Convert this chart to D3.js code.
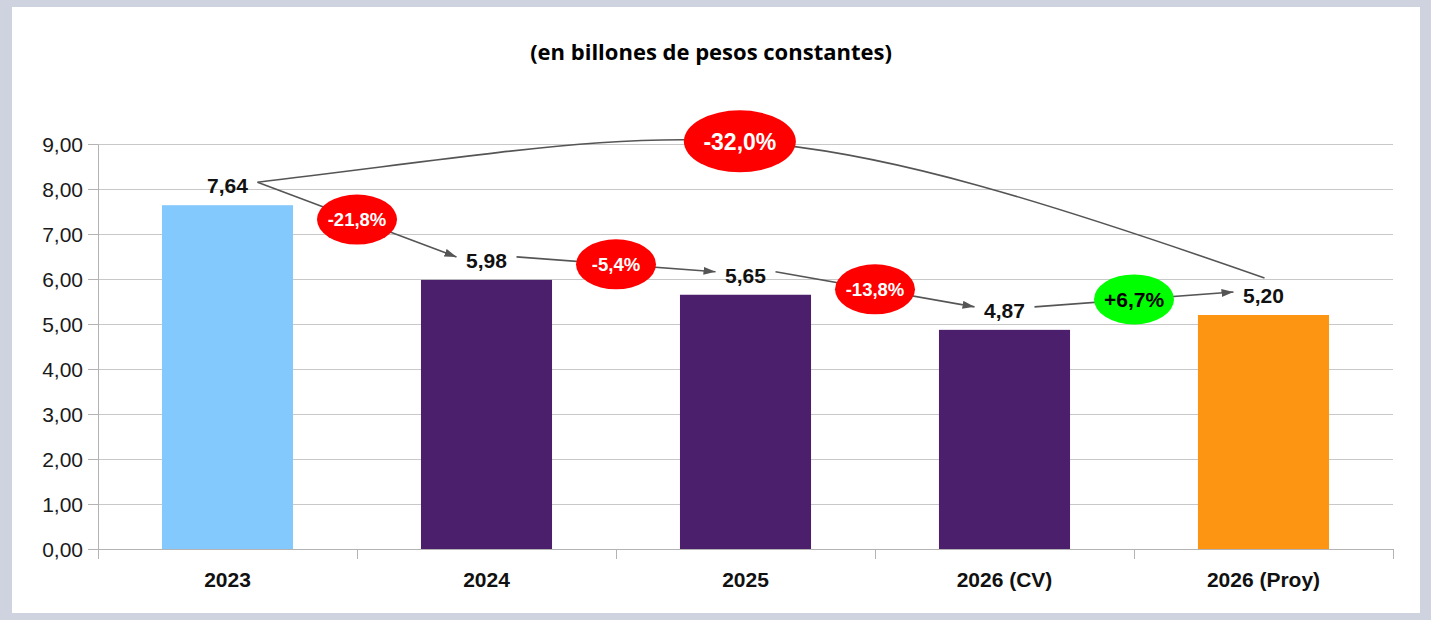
<!DOCTYPE html>
<html>
<head>
<meta charset="utf-8">
<script src="https://cdn.jsdelivr.net/npm/d3@7"></script>
<style>
  body{margin:0;background:#cfd3df;}
  #chart{position:absolute;left:12px;top:7px;width:1408px;height:606px;background:#fff;}
  svg{position:absolute;left:0;top:0;}
  .axis text{font-family:"Liberation Sans",Arial,sans-serif;fill:#1a1a1a;}
  .axis path,.axis line{stroke:#b3b3b3;}
  .grid line{stroke:#c8c8c8;}
  .grid path{stroke:none;}
</style>
</head>
<body>
<div id="chart"></div>
<svg id="svgchart" width="1431" height="620"></svg>
<script>
var categories=["2023","2024","2025","2026 (CV)","2026 (Proy)"],
 values=[7.64,5.98,5.65,4.87,5.20],
 valueLabels=["7,64","5,98","5,65","4,87","5,20"],
 barColors=["#84c9fd","#4b1f6c","#4b1f6c","#4b1f6c","#fd9412"],
 yTicks=[0,1,2,3,4,5,6,7,8,9],
 stepChanges=["-21,8%","-5,4%","-13,8%","+6,7%"],
 totalChange="-32,0%",
 title="(en billones de pesos constantes)";

var svg=d3.select("#svgchart"),
 margin={top:144,right:38,bottom:71,left:98},
 width=+svg.attr("width")-margin.left-margin.right,
 height=+svg.attr("height")-margin.top-margin.bottom;

var g=svg.append("g").attr("transform","translate("+margin.left+","+margin.top+")");

var x=d3.scaleBand().domain(categories).range([0,width]).padding(0),
 xb=d3.scaleLinear().domain([0,categories.length]).range([0,width]),
 y=d3.scaleLinear().domain([0,9]).range([height,0]);

var fmt=function(d){ return d3.format(".2f")(d).replace(".",","); };

//title
svg.append("text")
  .attr("x",711).attr("y",60)
  .attr("text-anchor","middle")
  .style("font-family","'Open Sans',sans-serif")
  .style("font-weight","700")
  .style("font-size","22px")
  .style("fill","#000")
  .text(title);

//grid
function make_y_gridlines(){
  return d3.axisLeft(y).tickValues(yTicks);
}
g.append("g")
  .attr("class","grid")
  .call(make_y_gridlines().tickSize(-width).tickFormat(""));

//y axis
var yaxis=g.append("g")
  .attr("class","axis")
  .call(d3.axisLeft(y).tickValues(yTicks).tickSizeInner(10).tickSizeOuter(0).tickPadding(5).tickFormat(fmt));
yaxis.selectAll("text").style("font-size","21px").attr("dy","0.36em");

//x axis
g.append("g")
  .attr("class","axis")
  .attr("transform","translate(0,"+height+")")
  .call(d3.axisBottom(xb).tickValues(d3.range(categories.length+1)).tickSizeInner(10).tickSizeOuter(0).tickFormat(""));
var xaxis=g.append("g")
  .attr("class","axis")
  .attr("transform","translate(0,"+height+")")
  .call(d3.axisBottom(x).tickSize(0).tickPadding(23));
xaxis.select(".domain").remove();
xaxis.selectAll("text").style("font-size","21px").style("font-weight","700").style("fill","#111");

//bars
var barW=x.bandwidth()*0.506;
g.selectAll(".bar")
  .data(values)
  .enter().append("rect")
  .attr("class","bar")
  .attr("x",function(d,i){ return x(categories[i])+(x.bandwidth()-barW)/2; })
  .attr("y",function(d){ return y(d); })
  .attr("width",barW)
  .attr("height",function(d){ return height-y(d); })
  .attr("fill",function(d,i){ return barColors[i]; });

//value labels
var cx=function(i){ return x(categories[i])+x.bandwidth()/2; },
 base=function(i){ return y(values[i])-12; };

g.selectAll(".vlabel")
  .data(values)
  .enter().append("text")
  .attr("class","vlabel")
  .attr("x",function(d,i){ return cx(i); })
  .attr("y",function(d,i){ return base(i); })
  .attr("text-anchor","middle")
  .style("font-family","'Liberation Sans',Arial,sans-serif")
  .style("font-size","21px")
  .style("font-weight","700")
  .style("fill","#111")
  .text(function(d,i){ return valueLabels[i]; });

//arrow marker
svg.append("defs").append("marker")
  .attr("id","arrow")
  .attr("viewBox","0 0 12 8")
  .attr("refX",12).attr("refY",4)
  .attr("markerWidth",12).attr("markerHeight",8)
  .attr("markerUnits","userSpaceOnUse")
  .attr("orient","auto")
  .append("path").attr("d","M0,0L12,4L0,8Z").attr("fill","#555");

var lineColor="#555";

//total change curve
var p0=[cx(0)+30,base(0)-11],
 p3=[cx(categories.length-1)+1,base(categories.length-1)-25],
 dx=p3[0]-p0[0];
var c1=[p0[0]+dx*0.458,p0[1]-dx*0.055],
 c2=[p3[0]-dx*0.514,p3[1]-dx*0.18];
var curve=d3.path();
curve.moveTo(p0[0],p0[1]);
curve.bezierCurveTo(c1[0],c1[1],c2[0],c2[1],p3[0],p3[1]);
g.append("path")
  .attr("d",curve.toString())
  .attr("fill","none")
  .attr("stroke",lineColor)
  .attr("stroke-width",1.6);

//step arrows
var steps=stepChanges.map(function(lab,i){
  var s=[cx(i)+30,base(i)-11],
   e=[cx(i+1)-30,base(i+1)-11],
   bx=xb(i+1);
  return {label:lab,s:s,e:e,bx:bx,by:s[1]+(e[1]-s[1])*(bx-s[0])/(e[0]-s[0])};
});

g.selectAll(".step")
  .data(steps)
  .enter().append("line")
  .attr("class","step")
  .attr("x1",function(d){ return d.s[0]; })
  .attr("y1",function(d){ return d.s[1]; })
  .attr("x2",function(d){ return d.e[0]; })
  .attr("y2",function(d){ return d.e[1]; })
  .attr("stroke",lineColor)
  .attr("stroke-width",1.6)
  .attr("marker-end","url(#arrow)");

//bubbles
var bubbles=steps.map(function(d){
  return {label:d.label,x:d.bx,y:d.by,rx:40,ry:25,size:d.label[0]=="+"?21:18.5};
});
var mid=[(p0[0]+3*c1[0]+3*c2[0]+p3[0])/8,(p0[1]+3*c1[1]+3*c2[1]+p3[1])/8];
bubbles.push({label:totalChange,x:mid[0],y:mid[1],rx:56,ry:31,size:23});

var bub=g.selectAll(".bubble")
  .data(bubbles)
  .enter().append("g")
  .attr("class","bubble")
  .attr("transform",function(d){ return "translate("+d.x+","+d.y+")"; });
bub.append("ellipse")
  .attr("rx",function(d){ return d.rx; })
  .attr("ry",function(d){ return d.ry; })
  .attr("fill",function(d){ return d.label[0]=="+"?"#00ff00":"#ff0000"; });
bub.append("text")
  .attr("text-anchor","middle")
  .attr("dy","0.36em")
  .style("font-family","'Liberation Sans',Arial,sans-serif")
  .style("font-weight","700")
  .style("font-size",function(d){ return d.size+"px"; })
  .style("fill",function(d){ return d.label[0]=="+"?"#000":"#fff"; })
  .text(function(d){ return d.label; });
</script>
</body>
</html>
